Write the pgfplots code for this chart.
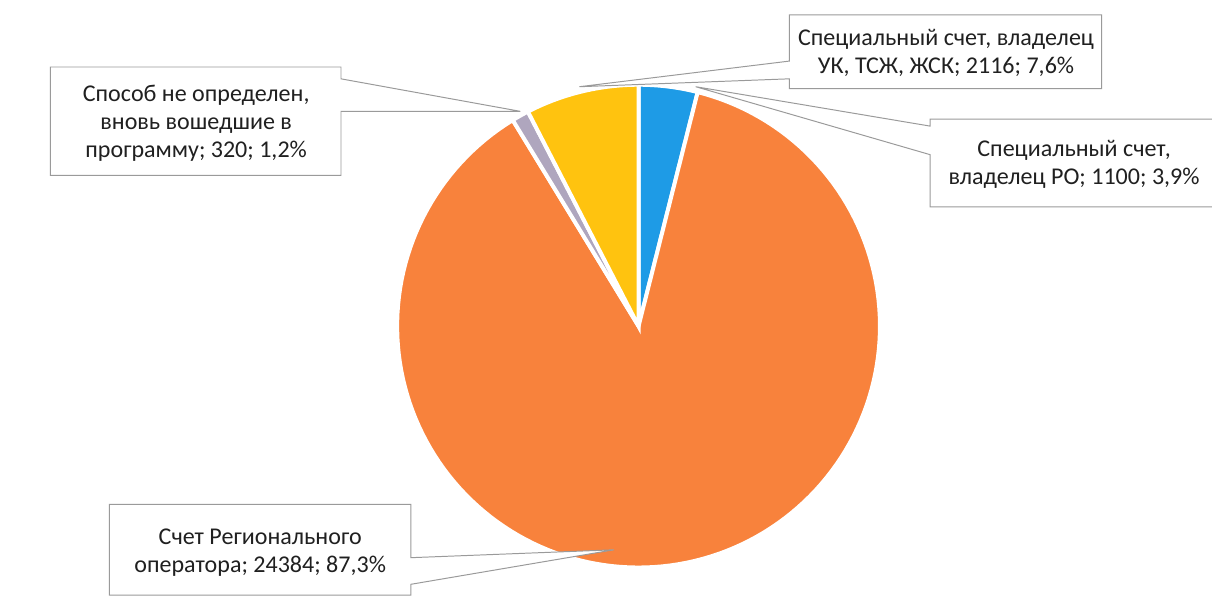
\documentclass[border=0pt]{standalone}
\usepackage{pgfplots}
\pgfplotsset{compat=1.18}
\usepackage{pgfplotstable}
\usepackage{fontspec}
\setmainfont{Carlito}
\definecolor{cBlue}{HTML}{1E9BE6}
\definecolor{cOrange}{HTML}{F8823C}
\definecolor{cGray}{HTML}{AFA6BE}
\definecolor{cYellow}{HTML}{FFC30F}
\definecolor{cBorder}{HTML}{9A9A9A}
\definecolor{cText}{HTML}{202020}

\pgfplotstableread{
idx value
0 1100
1 24384
2 320
3 2116
}\piedata

\begin{document}
\pgfplotstablegetelem{0}{value}\of\piedata \let\va\pgfplotsretval
\pgfplotstablegetelem{1}{value}\of\piedata \let\vb\pgfplotsretval
\pgfplotstablegetelem{2}{value}\of\piedata \let\vc\pgfplotsretval
\pgfplotstablegetelem{3}{value}\of\piedata \let\vd\pgfplotsretval
\edef\aA{\fpeval{round(360*\va/(\va+\vb+\vc+\vd),4)}}
\edef\aB{\fpeval{round(360*(\va+\vb)/(\va+\vb+\vc+\vd),4)}}
\edef\aC{\fpeval{round(360*(\va+\vb+\vc)/(\va+\vb+\vc+\vd),4)}}
\def\cx{630}\def\cy{331}\def\R{245}
\begin{tikzpicture}
\begin{axis}[name=ax, width=606pt, height=303pt, scale only axis,
  xmin=0, xmax=1212, ymin=0, ymax=606, y dir=reverse, hide axis, clip=true]
% wedges (angle measured clockwise from the top)
\addplot[fill=cBlue, draw=white, line width=2pt, domain=0:\aA, samples=30, variable=\t]
  ({\cx+\R*sin(t)},{\cy-\R*cos(t)}) -- (\cx,\cy) -- cycle;
\addplot[fill=cOrange, draw=white, line width=2pt, domain=\aA:\aB, samples=160, variable=\t]
  ({\cx+\R*sin(t)},{\cy-\R*cos(t)}) -- (\cx,\cy) -- cycle;
\addplot[fill=cGray, draw=white, line width=2pt, domain=\aB:\aC, samples=10, variable=\t]
  ({\cx+\R*sin(t)},{\cy-\R*cos(t)}) -- (\cx,\cy) -- cycle;
\addplot[fill=cYellow, draw=white, line width=2pt, domain=\aC:360, samples=30, variable=\t]
  ({\cx+\R*sin(t)},{\cy-\R*cos(t)}) -- (\cx,\cy) -- cycle;
% callouts
\begin{scope}[every node/.style={text=cText, align=center, font=\fontsize{12.2}{14.2}\selectfont, inner sep=0pt}]
\filldraw[fill=white, draw=cBorder, line width=0.5pt]
  (783,15) -- (1100,15) -- (1100,90) -- (783,90) -- (783,80) -- (570,88) -- (783,62) -- cycle;
\node at (942,54) {Специальный счет, владелец\\УК, ТСЖ, ЖСК; 2116; 7,6\%};
\filldraw[fill=white, draw=cBorder, line width=0.5pt]
  (926,121) -- (1220,121) -- (1220,210) -- (926,210) -- (926,157) -- (688,88) -- (926,128) -- cycle;
\node at (1072,167) {Специальный счет,\\владелец РО; 1100; 3,9\%};
\filldraw[fill=white, draw=cBorder, line width=0.5pt]
  (33,68) -- (328,68) -- (328,80) -- (510,113) -- (328,113) -- (328,178) -- (33,178) -- cycle;
\node at (181,125) {Способ не определен,\\вновь вошедшие в\\программу; 320; 1,2\%};
\filldraw[fill=white, draw=cBorder, line width=0.5pt]
  (93,512) -- (399,512) -- (399,566) -- (605,558) -- (399,593) -- (399,604) -- (93,604) -- cycle;
\node at (246,561) {Счет Регионального\\оператора; 24384; 87,3\%};
\end{scope}
\end{axis}
\pgfresetboundingbox
\path[use as bounding box] (ax.south west) rectangle (ax.north east);
\end{tikzpicture}
\end{document}
